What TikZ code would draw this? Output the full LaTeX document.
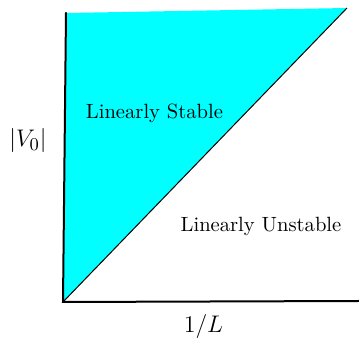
\documentclass[tikz,border=0pt]{standalone}
\usepackage{amsmath,amssymb}
\usepackage{xcolor}
\usetikzlibrary{positioning}
\definecolor{stablecyan}{RGB}{0,255,255}

\begin{document}
\begin{tikzpicture}[x=0.5pt, y=-0.5pt,
      axis/.style={line width=1pt, line cap=round},
      border/.style={line width=.5pt},
      region/.style={font=\fontsize{10.3}{12}\selectfont},
      axlabel/.style={font=\fontsize{13}{15}\selectfont}]
    \useasboundingbox (0,0) rectangle (359,341);
    \coordinate (origin) at (63,302);
    \coordinate (vtop) at (66,13);
    \coordinate (dtop) at (347,8);
    \coordinate (xend) at (359,301);
    \fill[stablecyan] (origin) -- (vtop) -- (dtop) -- cycle;
    \draw[border] (origin) -- (dtop);
    \draw[axis] (vtop) -- (origin) -- (xend);
    \node[region] (stable) at (154.5,113) {Linearly Stable};
    \node[region] (unstable) at (261,226.5) {Linearly Unstable};
    \node[axlabel, font=\fontsize{12.2}{14}\selectfont] (vlabel) at (28,141) {$|V_0|$};
    \node[axlabel] (xlabel) at (203.5,327) {$1/L$};
\end{tikzpicture}
\end{document}
